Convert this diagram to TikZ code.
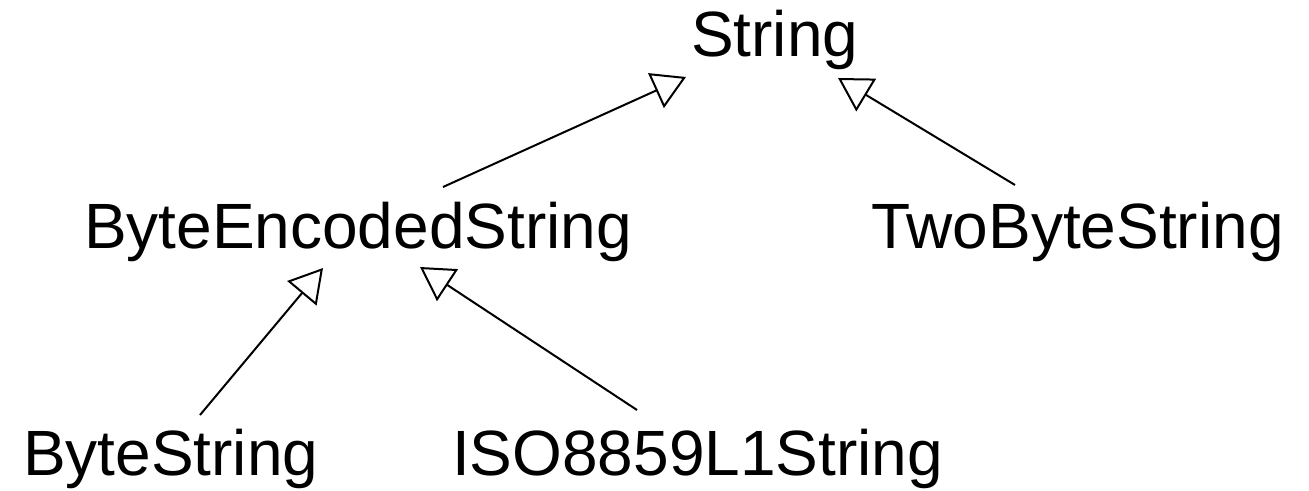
\documentclass[tikz,border=0pt]{standalone}
\usepackage{fontspec}
\setmainfont{Liberation Sans}
\usepackage{tikz}
\usetikzlibrary{arrows.meta}

\begin{document}
\begin{tikzpicture}[x=0.5pt,y=-0.5pt,line width=1pt,>={Triangle[open,length=16.5pt,width=19pt]},class node/.style={inner sep=0pt,anchor=base west,font=\fontsize{32}{36}\selectfont}]
	\useasboundingbox (0,0) rectangle (1309,491);

			\node[class node] (str) at (690,57) {String};
			\node[class node] (bes) at (83,249) {ByteEncodedString};
			\node[class node] (tbs) at (870,249) {TwoByteString};
			\node[class node] (bs) at (22,475) {ByteString};
			\node[class node] (iso) at (451,475) {ISO8859L1String};

			\path[->]
			([shift={(360,-62)}]bes.base west)	edge ([shift={(-4,20)}]str.base west)
			([shift={(145,-64)}]tbs.base west)	edge ([shift={(148,21)}]str.base west)
			([shift={(178,-60)}]bs.base west)	edge ([shift={(240,19)}]bes.base west)
			([shift={(186,-65)}]iso.base west)	edge ([shift={(337,18)}]bes.base west)
			;
		\end{tikzpicture}
\end{document}
